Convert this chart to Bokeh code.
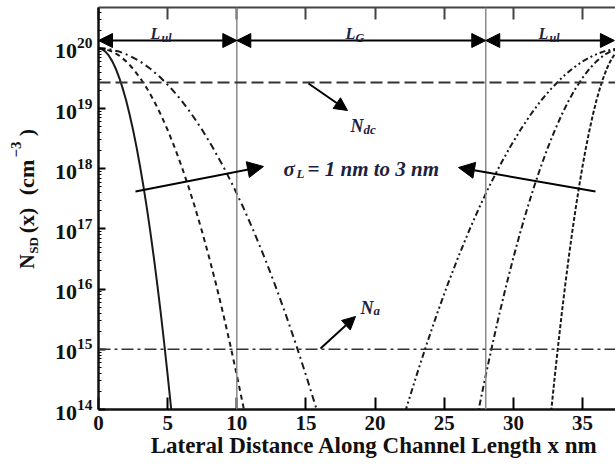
from math import pi

from bokeh.plotting import figure
from bokeh.layouts import row
from bokeh.core.properties import value
from bokeh.models import (FixedTicker, LinearAxis, Span, Arrow, NormalHead,
                          Label, Range1d)
from bokeh.embed import file_html
from bokeh.resources import INLINE

# Source-side lateral positions (nm) for sigma_L = 1, 2 and 3 nm
x_src_s1 = [0, 0.25, 0.5, 0.75, 1, 1.25, 1.5, 1.75, 2, 2.25, 2.5, 2.75, 3,
            3.25, 3.5, 3.75, 4, 4.25, 4.5, 4.75, 5, 5.25, 5.35]
x_src_s2 = [0, 0.5, 1, 1.5, 2, 2.5, 3, 3.5, 4, 4.5, 5, 5.5, 6, 6.5, 7, 7.5,
            8, 8.5, 9, 9.5, 10, 10.5, 10.7]
x_src_s3 = [0, 0.75, 1.5, 2.25, 3, 3.75, 4.5, 5.25, 6, 6.75, 7.5, 8.25, 9,
            9.75, 10.5, 11.25, 12, 12.75, 13.5, 14.25, 15, 15.75, 16.05]

# Drain-side lateral positions (nm)
x_drn_s1 = [38, 37.75, 37.5, 37.25, 37, 36.75, 36.5, 36.25, 36, 35.75, 35.5,
            35.25, 35, 34.75, 34.5, 34.25, 34, 33.75, 33.5, 33.25, 33, 32.75,
            32.65]
x_drn_s2 = [38, 37.5, 37, 36.5, 36, 35.5, 35, 34.5, 34, 33.5, 33, 32.5, 32,
            31.5, 31, 30.5, 30, 29.5, 29, 28.5, 28, 27.5, 27.3]
x_drn_s3 = [38, 37.25, 36.5, 35.75, 35, 34.25, 33.5, 32.75, 32, 31.25, 30.5,
            29.75, 29, 28.25, 27.5, 26.75, 26, 25.25, 24.5, 23.75, 23, 22.25,
            21.95]

# Doping concentration N_SD (cm^-3) along each profile
nsd_cm3 = [1.0e20, 9.68e19, 8.83e19, 7.55e19, 6.07e19, 4.58e19, 3.24e19,
           2.16e19, 1.36e19, 7.96e18, 4.40e18, 2.28e18, 1.11e18, 5.09e17,
           2.19e17, 8.85e16, 3.36e16, 1.20e16, 4.02e15, 1.26e15, 3.73e14,
           1.04e14, 6.1e13]

n_dc = 2.7e19          # source/drain doping level
n_a = 1.0e15           # channel doping level
gate_edges = [10, 28]  # underlap / gate boundaries (nm)
device_end = 37.3

x_ticks = [0, 5, 10, 15, 20, 25, 30, 35]
y_ticks = [1e14, 1e15, 1e16, 1e17, 1e18, 1e19, 1e20]
y_minor = [m * 10.0 ** k for k in range(14, 21) for m in range(2, 10)]

SERIF = "Liberation Serif"
INK = "#111111"
NOTE = "#1c2340"
X_END = 37.38
Y_LOG_END = 20.678
TITLE_W = 48          # width of the strip holding the vertical axis title
H = 467
TOP, BOTTOM = 7, 58   # frame borders shared by both panels

p = figure(width=615 - TITLE_W, height=H,
           x_range=Range1d(0, X_END), y_range=Range1d(1e14, 10 ** Y_LOG_END),
           y_axis_type="log", output_backend="svg", toolbar_location=None,
           min_border_left=98 - TITLE_W, min_border_right=0,
           min_border_top=TOP, min_border_bottom=BOTTOM)
p.outline_line_color = None
p.xgrid.visible = False
p.ygrid.visible = False
p.background_fill_color = "white"
p.border_fill_color = "white"


# frame pixel -> data helpers for annotation placement
def fx(px):
    return (px - 98) * X_END / 517


def fy(py):
    return 10 ** (14 + (409 - py) * (Y_LOG_END - 14) / 402)


def put(text, px, py, size, style="bold italic", align="left",
        baseline="alphabetic", color=NOTE):
    p.add_layout(Label(x=fx(px), y=fy(py), text=text, text_font=SERIF,
                       text_font_size=f"{size}px", text_font_style=style,
                       text_align=align, text_baseline=baseline,
                       text_color=color))


# bottom axis
xa = p.xaxis[0]
xa.ticker = FixedTicker(ticks=x_ticks)
xa.major_tick_in = 12
xa.major_tick_out = 0
xa.minor_tick_line_color = None
xa.axis_line_width = 2.5
xa.axis_line_color = "#111111"
xa.major_tick_line_width = 2
xa.major_label_text_font = SERIF
xa.major_label_text_font_style = "bold"
xa.major_label_text_font_size = "21px"
xa.major_label_text_color = INK
xa.major_label_standoff = 6
xa.axis_label = "\u2002\u2002\u2002Lateral Distance Along Channel Length x nm"
xa.axis_label_text_font = SERIF
xa.axis_label_text_font_style = "bold"
xa.axis_label_text_font_size = "23px"
xa.axis_label_text_color = INK
xa.axis_label_standoff = 0

# top frame edge with inward ticks
top = LinearAxis(ticker=FixedTicker(ticks=x_ticks), major_tick_in=12,
                 major_tick_out=0, minor_tick_line_color=None,
                 major_label_text_font_size="0px", major_label_text_color=None,
                 major_label_standoff=0,
                 axis_line_width=2, axis_line_color="#444444",
                 major_tick_line_width=2, major_tick_line_color="#444444")
p.add_layout(top, "above")

# logarithmic left axis
ya = p.yaxis[0]
ya.ticker = FixedTicker(ticks=y_ticks, minor_ticks=y_minor)
ya.major_tick_in = 7
ya.major_tick_out = 0
ya.minor_tick_in = 3
ya.minor_tick_out = 0
ya.axis_line_width = 2.5
ya.axis_line_color = "#111111"
ya.major_tick_line_width = 2
ya.major_label_text_font = SERIF
ya.major_label_text_font_style = "bold"
ya.major_label_text_font_size = "22px"
ya.major_label_text_color = INK
ya.major_label_standoff = 6

# reference levels and region boundaries
for edge in gate_edges:
    p.add_layout(Span(location=edge, dimension="height",
                      line_color="#8a8a8a", line_width=1.5))
p.add_layout(Span(location=n_dc, dimension="width", line_color="#333333",
                  line_width=2, line_dash="12 5"))
p.add_layout(Span(location=n_a, dimension="width", line_color="#333333",
                  line_width=1.5, line_dash="12 4 3 4"))

# Gaussian lateral doping profiles
ck = "#1a1a1a"
p.line(x_src_s1, nsd_cm3, line_color=ck, line_width=2)
p.line(x_src_s2, nsd_cm3, line_color=ck, line_width=2, line_dash="5 4")
p.line(x_src_s3, nsd_cm3, line_color=ck, line_width=2, line_dash="7 4 2 4")
p.line(x_drn_s1, nsd_cm3, line_color=ck, line_width=2, line_dash="4 2")
p.line(x_drn_s2, nsd_cm3, line_color=ck, line_width=2, line_dash="6 3 2 3")
p.line(x_drn_s3, nsd_cm3, line_color=ck, line_width=2,
       line_dash="6 3 2 3 2 3")


def head(size=14):
    return NormalHead(size=size, fill_color="black", line_color="black")


# region extents along the top
y_top = fy(40)
for a, b in [(0, gate_edges[0]), (gate_edges[0], gate_edges[1]),
             (gate_edges[1], device_end)]:
    p.add_layout(Arrow(x_start=a, y_start=y_top, x_end=b, y_end=y_top,
                       start=head(), end=head(), line_width=2,
                       line_color="black"))

put("L", 150, 33, 16)
put("ul", 161, 37, 12)
put("L", 345, 33, 16)
put("G", 355, 37, 12)
put("L", 538, 33, 16)
put("ul", 549, 37, 12)

# pointer arrows
for (x0, y0, x1, y1, s) in [(135, 191, 263, 166, 16), (595, 191, 458, 167, 16),
                            (308, 83, 347, 110, 13), (320, 348, 355, 316, 13)]:
    p.add_layout(Arrow(x_start=fx(x0), y_start=fy(y0), x_end=fx(x1),
                       y_end=fy(y1), end=head(s), line_width=2,
                       line_color="black"))

put("N", 350, 125, 18)
put("dc", 363, 129, 13)
put("N", 360, 307, 18)
put("a", 373, 310, 13)
put("σ", 283, 168, 21)
put("L", 296, 173, 13)
put("= 1 nm to 3 nm", 307, 168, 21)

# vertical axis title, set in its own strip left of the plot
t = figure(width=TITLE_W, height=H, x_range=Range1d(0, TITLE_W),
           y_range=Range1d(BOTTOM, H - TOP), output_backend="svg",
           toolbar_location=None, x_axis_location=None, y_axis_location=None,
           min_border_left=0, min_border_right=0, min_border_top=TOP,
           min_border_bottom=BOTTOM)
t.outline_line_color = None
t.xgrid.visible = False
t.ygrid.visible = False
t.border_fill_color = "white"


def title_piece(text, px, py, size):
    t.text(x=[px], y=[H - py], text=[text], angle=pi / 2,
           text_font=value(SERIF), text_font_style="bold",
           text_font_size=f"{size}px", text_color=INK,
           text_align="center", text_baseline="middle")


title_piece("N", 26, 261, 20)
title_piece("SD", 33, 245, 13)
title_piece("(x)", 26, 220, 22)
title_piece("(cm", 26, 177, 22)
title_piece("−3", 15, 149, 15)
title_piece(")", 26, 132, 22)

layout = row(t, p, spacing=0)
open("out.html", "w").write(file_html(layout, INLINE))
